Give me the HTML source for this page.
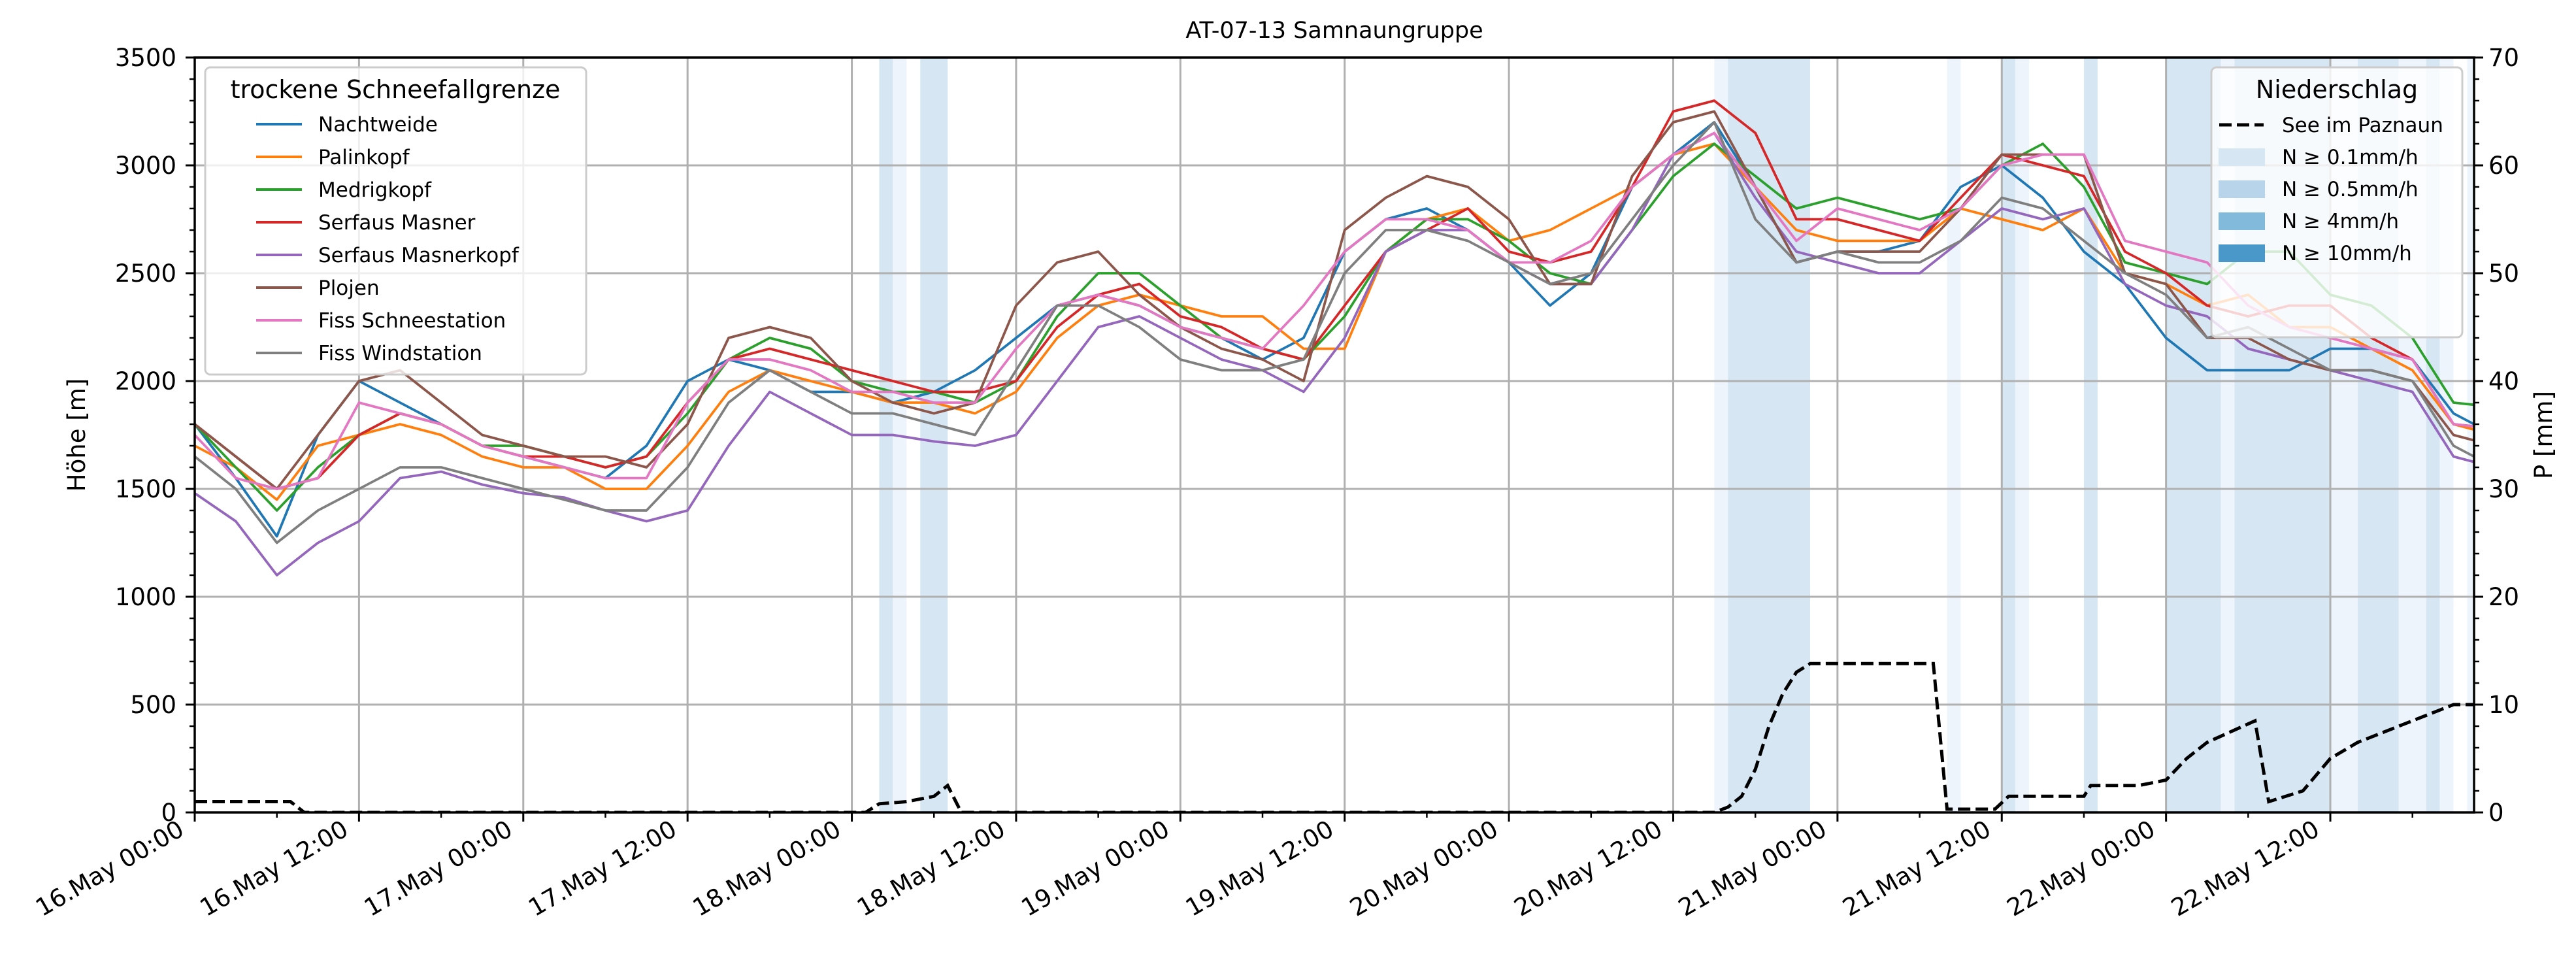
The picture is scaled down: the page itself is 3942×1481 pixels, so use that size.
<!DOCTYPE html>
<html><head><meta charset="utf-8">
<style>
html,body{margin:0;padding:0;background:#fff;}
svg{display:block;font-family:"DejaVu Sans","Liberation Sans",sans-serif;}
</style></head>
<body>
<svg id="chart" width="3942" height="1481" viewBox="0 0 3942 1481" xmlns="http://www.w3.org/2000/svg">
<text x="2042" y="58" font-size="35" text-anchor="middle">AT-07-13 Samnaungruppe</text>
<g id="bands"></g>
<g id="grid"></g>
<g id="series"></g>
<g id="axes"></g>
<g id="legends"></g>
</svg>
<script>
const hours = [0,3,6,9,12,15,18,21,24,27,30,33,36,39,42,45,48,51,54,57,60,63,66,69,72,75,78,81,84,87,90,93,96,99,102,105,108,111,114,117,120,123,126,129,132,135,138,141,144,147,150,153,156,159,162,165,168];
const seriesNames = ["Nachtweide","Palinkopf","Medrigkopf","Serfaus Masner","Serfaus Masnerkopf","Plojen","Fiss Schneestation","Fiss Windstation"];
const nachtweide = [1800,1550,1280,1750,2000,1900,1800,1700,1650,1600,1550,1700,2000,2100,2050,1950,1950,1900,1950,2050,2200,2350,2400,2350,2250,2200,2100,2200,2600,2750,2800,2700,2550,2350,2500,2900,3050,3200,2900,2550,2600,2600,2650,2900,3000,2850,2600,2450,2200,2050,2050,2050,2150,2150,2100,1850,1750];
const palinkopf = [1700,1600,1450,1700,1750,1800,1750,1650,1600,1600,1500,1500,1700,1950,2050,2000,1950,1900,1900,1850,1950,2200,2350,2400,2350,2300,2300,2150,2150,2600,2750,2800,2650,2700,2800,2900,3050,3100,2900,2700,2650,2650,2650,2800,2750,2700,2800,2500,2450,2350,2400,2250,2250,2150,2050,1800,1750];
const medrigkopf = [1800,1600,1400,1600,1750,1850,1800,1700,1700,1650,1600,1650,1850,2100,2200,2150,2000,1950,1950,1900,2000,2300,2500,2500,2350,2200,2150,2100,2300,2600,2750,2750,2650,2500,2450,2700,2950,3100,2950,2800,2850,2800,2750,2800,3000,3100,2900,2550,2500,2450,2600,2600,2400,2350,2200,1900,1880];
const serfausMasner = [1800,1650,1500,1550,1750,1850,1800,1700,1650,1650,1600,1650,1900,2100,2150,2100,2050,2000,1950,1950,2000,2250,2400,2450,2300,2250,2150,2100,2350,2600,2700,2800,2600,2550,2600,2900,3250,3300,3150,2750,2750,2700,2650,2850,3050,3000,2950,2600,2500,2350,2300,2350,2350,2200,2100,1800,1780];
const serfausMasnerkopf = [1480,1350,1100,1250,1350,1550,1580,1520,1480,1460,1400,1350,1400,1700,1950,1850,1750,1750,1720,1700,1750,2000,2250,2300,2200,2100,2050,1950,2200,2600,2700,2700,2550,2450,2450,2700,3050,3150,2850,2600,2550,2500,2500,2650,2800,2750,2800,2450,2350,2300,2150,2100,2050,2000,1950,1650,1600];
const plojen = [1800,1650,1500,1750,2000,2050,1900,1750,1700,1650,1650,1600,1800,2200,2250,2200,2000,1900,1850,1900,2350,2550,2600,2400,2250,2150,2100,2000,2700,2850,2950,2900,2750,2450,2450,2950,3200,3250,2900,2550,2600,2600,2600,2800,3050,3050,3050,2500,2450,2200,2200,2100,2050,2050,2000,1750,1700];
const fissSchneestation = [1750,1550,1500,1550,1900,1850,1800,1700,1650,1600,1550,1550,1900,2100,2100,2050,1950,1950,1900,1900,2150,2350,2400,2350,2250,2200,2150,2350,2600,2750,2750,2700,2550,2550,2650,2900,3050,3150,2900,2650,2800,2750,2700,2800,3000,3050,3050,2650,2600,2550,2350,2250,2200,2150,2100,1800,1780];
const fissWindstation = [1650,1500,1250,1400,1500,1600,1600,1550,1500,1450,1400,1400,1600,1900,2050,1950,1850,1850,1800,1750,2050,2350,2350,2250,2100,2050,2050,2100,2500,2700,2700,2650,2550,2450,2500,2750,3000,3200,2750,2550,2600,2550,2550,2650,2850,2800,2650,2500,2400,2200,2250,2150,2050,2050,2000,1700,1600];
const precipHours = [0,7,8,49,50,52,54,55,56,111,112,113,114,115,116,117,118,127,128,131.5,132.5,138,138.5,142,144,145.5,147,150.5,151.5,154,156,158,160,162,164,165,166.5];
const precipValues = [1,1,0,0,0.8,1,1.5,2.5,0,0,0.5,1.5,4,8,11,13,13.8,13.8,0.3,0.3,1.5,1.5,2.5,2.5,3,5,6.5,8.5,1,2,5,6.5,7.5,8.5,9.5,10,10];
const bandStarts = [50,51,53,111,112,128,132,133,138,144,148,149,156,158,161,163,164,166];
const bandEnds   = [51,52,55,112,118,129,133,134,139,148,149,156,158,161,163,164,165,167];
const bandLevels = [1,0,1,0,1,0,1,0,1,1,0,1,0,1,0,1,0,0];
const yTicks = [0,500,1000,1500,2000,2500,3000,3500];
const pTicks = [0,10,20,30,40,50,60,70];
const xTickLabels = ["16.May 00:00","16.May 12:00","17.May 00:00","17.May 12:00","18.May 00:00","18.May 12:00","19.May 00:00","19.May 12:00","20.May 00:00","20.May 12:00","21.May 00:00","21.May 12:00","22.May 00:00","22.May 12:00"];

const NS="http://www.w3.org/2000/svg";
const L=298,R=3786,T=88,B=1243,HMAX=166.5;
const xs=h=>L+(R-L)*h/HMAX;
const ys=v=>B-(B-T)*v/3500;
const yp=v=>B-(B-T)*v/70;
function mk(tag,attrs,parent){const e=document.createElementNS(NS,tag);for(const k in attrs)e.setAttribute(k,attrs[k]);parent.appendChild(e);return e;}
const svg=document.getElementById('chart');
const defs=mk('defs',{},svg);
const cp=mk('clipPath',{id:'clip'},defs);
mk('rect',{x:L,y:T,width:R-L,height:B-T},cp);

const bandG=document.getElementById('bands');
bandG.setAttribute('clip-path','url(#clip)');
const bandCols=['#eef4fb','#d6e6f3'];
for(let i=0;i<bandStarts.length;i++){
  const r=mk('rect',{x:xs(bandStarts[i]),y:T,width:xs(bandEnds[i])-xs(bandStarts[i]),height:B-T,fill:bandCols[bandLevels[i]]},bandG);
  
  
}
const gridG=document.getElementById('grid');
for(let i=0;i<xTickLabels.length;i++){
  const gl=mk('line',{x1:xs(i*12),x2:xs(i*12),y1:T,y2:B,stroke:'#b0b0b0','stroke-width':3},gridG);
  
  
}
yTicks.forEach(v=>{
  const gl=mk('line',{x1:L,x2:R,y1:ys(v),y2:ys(v),stroke:'#b0b0b0','stroke-width':3},gridG);
  
  
});
const colors=['#1f77b4','#ff7f0e','#2ca02c','#d62728','#9467bd','#8c564b','#e377c2','#7f7f7f'];
const allSeries=[nachtweide,palinkopf,medrigkopf,serfausMasner,serfausMasnerkopf,plojen,fissSchneestation,fissWindstation];
const sG=document.getElementById('series');
sG.setAttribute('clip-path','url(#clip)');
allSeries.forEach((s,i)=>{
  const d=s.map((v,j)=>(j?'L':'M')+xs(hours[j]).toFixed(1)+','+ys(v).toFixed(1)).join('');
  const p=mk('path',{d:d,fill:'none',stroke:colors[i],'stroke-width':3.8,'stroke-linejoin':'round'},sG);
  
  
});
const pd=precipHours.map((h,j)=>(j?'L':'M')+xs(h).toFixed(1)+','+yp(precipValues[j]).toFixed(1)).join('');
const pl=mk('path',{d:pd,fill:'none',stroke:'#000','stroke-width':5,'stroke-dasharray':'19 8'},sG);



const aG=document.getElementById('axes');
mk('rect',{x:L,y:T,width:R-L,height:B-T,fill:'none',stroke:'#000','stroke-width':3.5},aG);
for(let h=0;h<=HMAX;h+=6){
  const major=h%12===0;
  mk('line',{x1:xs(h),x2:xs(h),y1:B,y2:B+(major?14:8),stroke:'#000','stroke-width':major?3:2.5},aG);
}
xTickLabels.forEach((lab,i)=>{
  const x=xs(i*12)-14,y=1276;
  const t=mk('text',{x:x,y:y,'font-size':37,'text-anchor':'end',transform:`rotate(-30 ${x} ${y})`},aG);
  t.textContent=lab;
  
  
});
for(let v=0;v<=3500;v+=100){
  const major=v%500===0;
  mk('line',{x1:L,x2:L-(major?14:8),y1:ys(v),y2:ys(v),stroke:'#000','stroke-width':major?3:2.5},aG);
}
yTicks.forEach(v=>{
  const t=mk('text',{x:270,y:ys(v)+13,'font-size':37,'text-anchor':'end'},aG);
  t.textContent=v;
  
  
});
for(let v=0;v<=70;v+=2){
  const major=v%10===0;
  mk('line',{x1:R,x2:R+(major?14:8),y1:yp(v),y2:yp(v),stroke:'#000','stroke-width':major?3:2.5},aG);
}
pTicks.forEach(v=>{
  const t=mk('text',{x:3808,y:yp(v)+13,'font-size':37,'text-anchor':'start'},aG);
  t.textContent=v;
  
  
});
const yl=mk('text',{x:130,y:(T+B)/2,'font-size':37,'text-anchor':'middle',transform:`rotate(-90 130 ${(T+B)/2})`},aG);
yl.textContent='Höhe [m]';


const pl2=mk('text',{x:3905,y:(T+B)/2,'font-size':37,'text-anchor':'middle',transform:`rotate(-90 3905 ${(T+B)/2})`},aG);
pl2.textContent='P [mm]';



const lg=document.getElementById('legends');
const l1=mk('g',{},lg);


mk('rect',{x:314,y:103,width:583,height:470,rx:8,fill:'#fff','fill-opacity':0.8,stroke:'#cccccc','stroke-width':3},l1);
const t1=mk('text',{x:605,y:150,'font-size':38,'text-anchor':'middle'},l1);
t1.textContent='trockene Schneefallgrenze';
seriesNames.forEach((n,i)=>{
  const y=190+i*50;
  mk('line',{x1:392,x2:462,y1:y,y2:y,stroke:colors[i],'stroke-width':4},l1);
  const t=mk('text',{x:487,y:y+11,'font-size':31},l1);
  t.textContent=n;
  
  
});
const l2=mk('g',{},lg);


mk('rect',{x:3384,y:103,width:384,height:413,rx:8,fill:'#fff','fill-opacity':0.8,stroke:'#cccccc','stroke-width':3},l2);
const t2=mk('text',{x:3576,y:150,'font-size':38,'text-anchor':'middle'},l2);
t2.textContent='Niederschlag';
const l2items=['See im Paznaun','N ≥ 0.1mm/h','N ≥ 0.5mm/h','N ≥ 4mm/h','N ≥ 10mm/h'];
const l2cols=[null,'#d6e6f3','#b7d4ea','#82badb','#4a98c9'];
l2items.forEach((n,i)=>{
  const y=191+i*49;
  if(i===0) mk('line',{x1:3396,x2:3464,y1:y,y2:y,stroke:'#000','stroke-width':5,'stroke-dasharray':'19 8'},l2);
  else mk('rect',{x:3395,y:y-13,width:71,height:27,fill:l2cols[i]},l2);
  const t=mk('text',{x:3492,y:y+11,'font-size':31},l2);
  t.textContent=n;
  
  
});
</script>
</body></html>
